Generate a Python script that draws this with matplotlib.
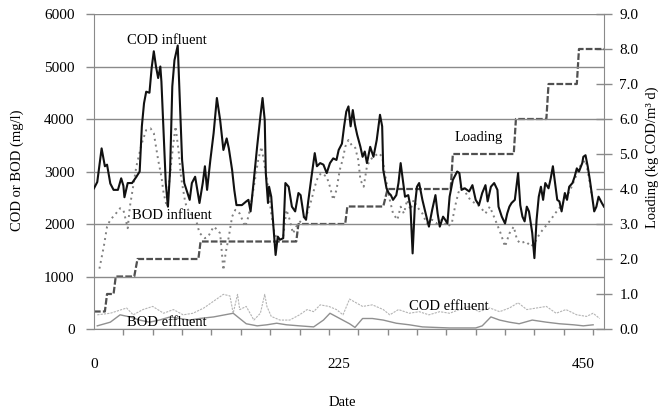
import numpy as np
import matplotlib
matplotlib.use("Agg")
import matplotlib.pyplot as plt

plt.rcParams['font.family'] = ['Liberation Serif', 'DejaVu Serif']
plt.rcParams['font.size'] = 10

# ---- data ----
cod_inf_day = [0, 3, 7, 10, 12, 15, 18, 22, 25, 27, 28, 31, 35, 39, 42, 44, 46, 48, 51, 53,
               55, 57, 59, 61, 62, 64, 66, 68, 70, 72, 74, 77, 79, 81, 83, 85, 88, 90, 93, 95,
               97, 100, 102, 104, 107, 110, 113, 116, 119, 122, 124, 127, 129, 131, 136, 140, 142, 144, 147, 150,
               153, 155, 157, 158, 160, 161, 163, 165, 167, 169, 171, 174, 176, 179, 182, 185, 188, 190, 193, 195,
               197, 200, 203, 205, 208, 211, 214, 217, 220, 223, 225, 228, 230, 232, 234, 236, 238, 240, 242, 245,
               247, 249, 251, 254, 257, 260, 263, 265, 266, 269, 271, 273, 275, 278, 280, 282, 284, 286, 289, 291,
               293, 295, 297, 299, 302, 305, 308, 311, 314, 316, 318, 321, 323, 325, 327, 330, 334, 336, 338, 341,
               345, 348, 351, 354, 357, 360, 362, 365, 368, 371, 372, 375, 378, 380, 382, 384, 387, 390, 392, 394,
               396, 398, 400, 403, 405, 407, 409, 411, 413, 415, 418, 420, 422, 424, 426, 428, 430, 433, 435, 437,
               440, 442, 444, 446, 449, 450, 452, 454, 456, 460, 462, 464, 467, 469]
cod_inf_val = [2680, 2800, 3440, 3100, 3130, 2770, 2650, 2650, 2870, 2730, 2510, 2780, 2780, 2900, 3000, 3860, 4300, 4520, 4500, 4970,
               5290, 5000, 4780, 5000, 4710, 3730, 2780, 2330, 3030, 4620, 5120, 5400, 4300, 3220, 2780, 2650, 2460, 2780, 2900, 2650,
               2400, 2780, 3100, 2650, 3220, 3730, 4400, 3980, 3410, 3630, 3440, 3030, 2650, 2360, 2360, 2430, 2460, 2240, 2840, 3470,
               4050, 4400, 3980, 2970, 2400, 2710, 2520, 1950, 1410, 1760, 1700, 1730, 2780, 2710, 2330, 2240, 2590, 2550, 2140, 2080,
               2430, 2900, 3350, 3100, 3160, 3130, 2970, 3160, 3250, 3220, 3410, 3530, 3860, 4140, 4240, 3860, 4170, 3890, 3700, 3470,
               3280, 3380, 3160, 3470, 3280, 3600, 4080, 3860, 3030, 2680, 2590, 2550, 2460, 2550, 2780, 3160, 2840, 2520, 2550, 2330,
               1440, 2330, 2710, 2780, 2460, 2200, 1950, 2270, 2550, 2200, 1950, 2140, 2080, 2010, 2520, 2840, 3000, 2970, 2650, 2680,
               2620, 2740, 2460, 2360, 2590, 2740, 2430, 2710, 2780, 2650, 2330, 2140, 2010, 2200, 2330, 2400, 2460, 2970, 2360, 2140,
               2050, 2330, 2240, 1830, 1350, 2080, 2520, 2710, 2460, 2780, 2680, 2870, 3100, 2780, 2460, 2430, 2240, 2590, 2460, 2710,
               2780, 2900, 3060, 3000, 3160, 3280, 3310, 3100, 2840, 2240, 2330, 2520, 2400, 2330]

bod_inf_day = [5, 9, 12, 15, 19, 24, 27, 31, 33, 36, 39, 44, 48, 52, 55, 57, 59, 62, 64, 67,
               70, 73, 75, 78, 80, 84, 88, 93, 97, 102, 105, 110, 114, 116, 119, 121, 124, 127, 130, 134,
               139, 142, 145, 148, 151, 154, 157, 160, 163, 166, 169, 174, 177, 180, 183, 186, 191, 196, 200, 203,
               206, 209, 214, 217, 220, 223, 226, 229, 231, 234, 237, 240, 243, 245, 248, 251, 254, 257, 262, 265,
               268, 272, 275, 279, 282, 285, 288, 291, 294, 297, 302, 306, 311, 315, 320, 325, 329, 332, 335, 338,
               341, 346, 350, 355, 360, 364, 369, 374, 378, 382, 386, 389, 392, 397, 402, 406, 410, 415, 420, 424,
               429, 433, 438, 443, 447, 452, 455, 458]
bod_inf_val = [1150, 1570, 1950, 2080, 2170, 2300, 2270, 1920, 2330, 2710, 3100, 3540, 3790, 3820, 3730, 3470, 3220, 2900, 2590, 2330,
               2970, 3540, 3860, 3350, 2900, 2400, 2200, 2140, 1830, 1730, 1760, 1950, 1880, 1820, 1120, 1440, 1760, 2140, 2270, 2200,
               1950, 2140, 2460, 2840, 3220, 3470, 3100, 2710, 2200, 1820, 1700, 1760, 2270, 2080, 1820, 1950, 2080, 2200, 2460, 2710,
               2900, 2970, 2900, 2710, 2460, 2650, 3030, 3250, 3470, 3600, 3500, 3470, 3220, 2840, 2710, 3100, 3220, 3280, 3350, 3280,
               2900, 2460, 2200, 2080, 2330, 2200, 2460, 2270, 2460, 2330, 2200, 2010, 2080, 2010, 2080, 1950, 2010, 2330, 2590, 2740,
               2620, 2460, 2400, 2330, 2200, 2330, 2080, 1820, 1570, 1820, 1950, 1700, 1630, 1670, 1570, 1670, 1820, 1950, 2080, 2200,
               2330, 2460, 2650, 2900, 3100, 3220, 2900, 2520]

cod_eff_day = [3, 15, 30, 36, 45, 54, 64, 73, 82, 91, 101, 110, 119, 125, 128, 132, 134, 140, 147, 153,
               157, 159, 163, 171, 180, 189, 196, 202, 208, 216, 223, 229, 235, 241, 247, 256, 266, 272, 280, 290,
               299, 308, 318, 327, 336, 345, 354, 364, 373, 382, 390, 398, 407, 416, 425, 434, 444, 453, 459, 465]
cod_eff_val = [270, 300, 400, 270, 370, 430, 300, 370, 270, 300, 400, 530, 660, 630, 300, 660, 370, 430, 170, 300,
               660, 430, 240, 170, 170, 270, 370, 330, 460, 430, 370, 270, 570, 500, 430, 460, 370, 270, 370, 300,
               330, 270, 330, 300, 370, 430, 330, 400, 330, 400, 500, 370, 400, 430, 300, 370, 270, 240, 300, 200]

bod_eff_day = [3, 15, 24, 33, 42, 51, 60, 70, 79, 88, 97, 110, 128, 134, 140, 150, 159, 168, 177, 189,
               202, 211, 217, 226, 235, 240, 247, 256, 266, 278, 290, 302, 314, 327, 339, 351, 357, 365, 373, 382,
               391, 403, 416, 428, 441, 450, 459]
bod_eff_val = [60, 130, 270, 230, 170, 130, 170, 230, 200, 170, 200, 230, 300, 200, 100, 60, 80, 110, 80, 60,
               40, 170, 300, 200, 100, 30, 200, 200, 170, 110, 80, 40, 30, 20, 20, 20, 60, 230, 170, 130,
               100, 170, 130, 100, 80, 60, 80]

load_day = [0, 10, 12, 18, 20, 37, 40, 96, 98, 186, 188, 231, 233, 266, 270, 328, 330, 386, 388, 416, 418, 444, 446, 469]
load_val = [0.5, 0.5, 1.0, 1.0, 1.5, 1.5, 2.0, 2.0, 2.5, 2.5, 3.0, 3.0, 3.5, 3.5, 4.0, 4.0, 5.0, 5.0, 6.0, 6.0, 7.0, 7.0, 8.0, 8.0]

x_labels = [0, 225, 450]

# ---- figure ----
W, H = 661, 411
fig = plt.figure(figsize=(W / 100, H / 100), dpi=100)
ax = fig.add_axes([94 / W, 1 - 329 / H, 510 / W, 315 / H])
ax2 = ax.twinx()
ax.set_zorder(ax2.get_zorder() + 1)
ax.patch.set_visible(False)

gcol = '#8a8a8a'

ax2.plot(load_day, load_val, color='#505050', lw=1.6, ls=(0, (3, 1)), zorder=3)

ax.plot(bod_eff_day, bod_eff_val, color='#909090', lw=1.0, zorder=2)
ax.plot(cod_eff_day, cod_eff_val, color='#b4b4b4', lw=0.8, ls=(0, (2, 1)), zorder=2)
ax.plot(bod_inf_day, bod_inf_val, color='#808080', lw=1.4, ls=(0, (1, 2)), zorder=3)
ax.plot(cod_inf_day, cod_inf_val, color='#111111', lw=1.5, zorder=4)

ax.set_xlim(0, 469)
ax.set_ylim(0, 6000)
ax2.set_ylim(0, 9)

ax.set_yticks(np.arange(0, 6001, 1000))
ax.yaxis.grid(True, color=gcol, lw=1.0)
ax.tick_params(axis='y', length=6, width=1, color=gcol, pad=8, labelsize=11)

ax.set_xticks(x_labels)
ax.set_xticklabels([str(v) for v in x_labels])
ax.set_xticks(np.arange(0, 460, 27), minor=True)
ax.tick_params(axis='x', which='major', length=0, pad=21, labelsize=11)
ax.tick_params(axis='x', which='minor', length=4, width=1, color=gcol, direction='out')

ax2.set_yticks(np.arange(0, 10, 1))
ax2.set_yticklabels(['%.1f' % v for v in np.arange(0, 10, 1)])
ax2.tick_params(axis='y', direction='inout', length=12, width=1, color=gcol, pad=5, labelsize=11)

for a in (ax, ax2):
    a.spines['top'].set_visible(False)
ax.spines['right'].set_visible(False)
ax2.spines['left'].set_visible(False)
ax2.spines['bottom'].set_visible(False)
ax.spines['left'].set_color(gcol)
ax.spines['bottom'].set_color(gcol)
ax2.spines['right'].set_color(gcol)

# annotations
ax.text(67, 5500, 'COD influent', ha='center', va='center', fontsize=10.5)
ax.text(72, 2170, 'BOD influent', ha='center', va='center', fontsize=10.5)
ax.text(67, 115, 'BOD effluent', ha='center', va='center', fontsize=10.5)
ax.text(326, 420, 'COD effluent', ha='center', va='center', fontsize=10.5)
ax.text(354, 3640, 'Loading', ha='center', va='center', fontsize=10.5)

fig.text(342 / W, 1 - 402 / H, 'Date', ha='center', va='center', fontsize=10.5)
fig.text(17 / W, 1 - 170 / H, 'COD or BOD (mg/l)', rotation=90, ha='center', va='center', fontsize=10.5)
fig.text(652 / W, 1 - 157 / H, 'Loading (kg COD/m³ d)', rotation=90, ha='center', va='center', fontsize=10.5)

fig.savefig('out.png', dpi=100)
